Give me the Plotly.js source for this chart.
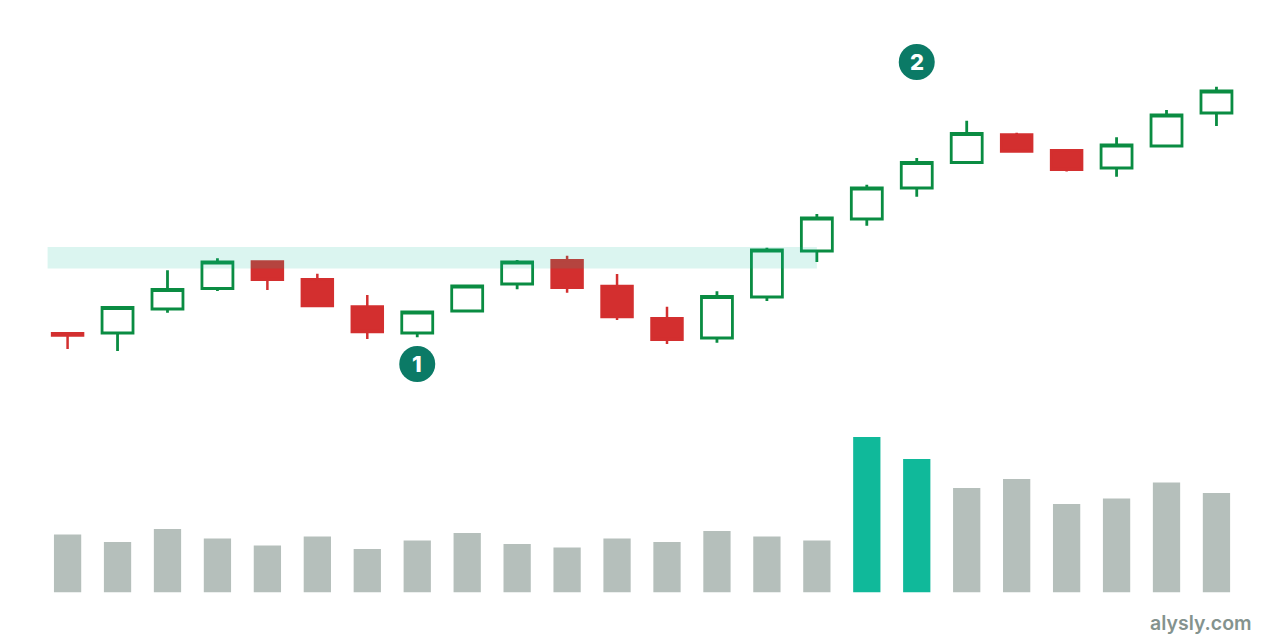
<!DOCTYPE html>
<html>
<head>
<meta charset="utf-8">
<script src="https://cdn.plot.ly/plotly-3.0.1.min.js"></script>
<style>html,body{margin:0;padding:0;background:#fff}#chart{width:1280px;height:640px}</style>
</head>
<body>
<div id="chart"></div>
<script>
const open_ = [306.8,307,331,351.5,378.5,360.8,333.5,307,329,356,379.8,354.1,321.8,302,343,389,421,452,477.5,505.5,489.8,472,494,527];
const close_ = [304.5,332.5,350.5,378,360.2,334,308,328,354,378,352.2,323,300.2,343.5,390,422,452,477.5,506.5,488.5,470.2,495,525,549];
const high = [306.8,333,369.7,381.7,379,366.3,345,329,354,380,384.3,366,333.3,348.7,392.3,426,455.3,482,519.3,507.3,491,502.7,530,553.3];
const low = [291,289,327.3,349,350,334,301,302.7,329,350.7,347.3,320,296,297.3,339,378,414.3,443.3,476,487.5,468.5,463.3,493,514];
const volume = [58,50.5,63.5,54,47,56,43.5,52,59.5,48.5,45,54,50.5,61.5,56,52,155.5,133.5,104.5,113.5,88.5,94,110,99.5];
const highlighted = [16,17];
const bandX = [-0.4,15];
const bandY = [371.5,393];
const badgeX = [7,17];
const badgeY = [276,578];
const badgeText = ['1','2'];

const days = volume.map((v, i) => i);

function candles(keep, color) {
    const idx = days.filter(keep);
    return {
        type: 'candlestick',
        x: idx,
        open: idx.map(i => open_[i]),
        high: idx.map(i => high[i]),
        low: idx.map(i => low[i]),
        close: idx.map(i => close_[i]),
        whiskerwidth: 0,
        increasing: {line: {color: color, width: 2.8}, fillcolor: 'rgba(0,0,0,0)'},
        decreasing: {line: {color: color, width: 2.5}, fillcolor: color},
        hoverinfo: 'skip'
    };
}

const data = [
    {
        type: 'bar',
        x: days,
        y: volume,
        yaxis: 'y2',
        width: 0.546,
        marker: {color: days.map(i => highlighted.includes(i) ? '#10b99a' : '#b5bfbb')},
        hoverinfo: 'skip'
    },
    candles(i => close_[i] < open_[i], '#d32f2f'),
    candles(i => close_[i] >= open_[i], '#0a8c42'),
    {
        type: 'scatter',
        mode: 'lines',
        x: [bandX[0], bandX[1], bandX[1], bandX[0], bandX[0]],
        y: [bandY[0], bandY[0], bandY[1], bandY[1], bandY[0]],
        fill: 'toself',
        fillcolor: 'rgba(16,185,154,0.15)',
        line: {width: 0},
        hoverinfo: 'skip'
    },
    {
        type: 'scatter',
        mode: 'markers',
        x: badgeX,
        y: badgeY,
        marker: {size: 36, color: '#0b7a66'},
        hoverinfo: 'skip'
    }
];

const badgeLabels = badgeText.map((t, i) => ({
    text: t,
    xref: 'x', yref: 'y',
    x: badgeX[i], y: badgeY[i],
    xanchor: 'center', yanchor: 'middle',
    showarrow: false,
    font: {family: 'Inter', size: 22, color: '#ffffff', weight: 800}
}));

const hidden = {visible: false, fixedrange: true};
const layout = {
    width: 1280,
    height: 640,
    showlegend: false,
    margin: {l: 0, r: 0, t: 0, b: 0, pad: 0},
    paper_bgcolor: '#ffffff',
    plot_bgcolor: 'rgba(0,0,0,0)',
    boxgap: 0.38,
    boxgroupgap: 0,
    xaxis: {...hidden, range: [-1.353, 24.272], rangeslider: {visible: false}},
    yaxis: {...hidden, range: [0, 640]},
    yaxis2: {...hidden, range: [0, 300], domain: [47.5 / 640, 347.5 / 640]},
    annotations: badgeLabels.concat([{
        text: 'alysly.com',
        xref: 'paper', yref: 'paper',
        x: 1253.5 / 1280, y: 1 - 623 / 640,
        xanchor: 'right', yanchor: 'middle',
        showarrow: false,
        font: {family: 'Inter', size: 19.5, color: '#84938e', weight: 600}
    }])
};

Plotly.newPlot('chart', data, layout, {displayModeBar: false, staticPlot: true});
</script>
</body>
</html>
